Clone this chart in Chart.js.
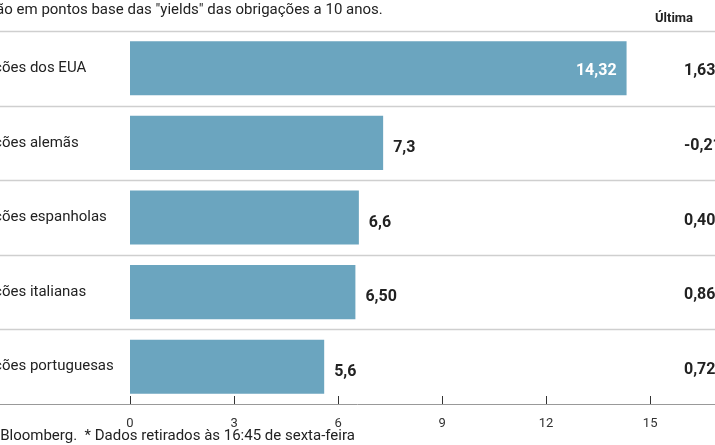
<!DOCTYPE html>
<html><head><meta charset="utf-8">
<script src="https://cdn.jsdelivr.net/npm/chart.js@4"></script>
<style>html,body{margin:0;padding:0;background:#fff}#w{width:715px;height:445px}</style>
</head><body><div id="w"><canvas id="c"></canvas></div>
<script>
const categories = ["Obrigações dos EUA","Obrigações alemãs","Obrigações espanholas","Obrigações italianas","Obrigações portuguesas"];
const values = [14.32, 7.3, 6.6, 6.5, 5.6];
const valueLabels = ["14,32","7,3","6,6","6,50","5,6"];
const lastYields = ["1,63","-0,21","0,40","0,86","0,72"];
const xTicks = [0,3,6,9,12,15];
const titleText = 'Variação em pontos base das "yields" das obrigações a 10 anos.';
const footerText = 'Fonte: Bloomberg.  * Dados retirados às 16:45 de sexta-feira';
const FONT = 'Roboto, "Open Sans", sans-serif';

const deco = {
  id:'deco',
  beforeDatasetsDraw(ch){
    const c=ch.ctx, a=ch.chartArea, y=ch.scales.y, x=ch.scales.x;
    c.save();
    c.strokeStyle='#cfcfcf'; c.lineWidth=1.5;
    const step=(a.bottom-a.top)/categories.length;
    for(let i=0;i<categories.length;i++){
      const yy=Math.round(a.top+i*step)+0.5;
      c.beginPath(); c.moveTo(0,yy); c.lineTo(715,yy); c.stroke();
    }
    c.strokeStyle='#999'; c.lineWidth=1;
    c.beginPath(); c.moveTo(0,a.bottom+0.5); c.lineTo(715,a.bottom+0.5); c.stroke();
    c.strokeStyle='#333';
    xTicks.forEach(t=>{const px=Math.round(x.getPixelForValue(t))+0.5;c.beginPath();c.moveTo(px,a.bottom-8);c.lineTo(px,a.bottom);c.stroke();});
    c.restore();
  },
  afterDatasetsDraw(ch){
    const c=ch.ctx, a=ch.chartArea, meta=ch.getDatasetMeta(0);
    c.save(); c.textBaseline='middle';
    meta.data.forEach((b,i)=>{
      c.font='15px '+FONT; c.fillStyle='#222'; c.textAlign='left';
      c.fillText(categories[i],-50,b.y);
      c.font='bold 16px '+FONT;
      if(i===0){c.fillStyle='#fff';c.textAlign='right';c.fillText(valueLabels[i],b.x-10,b.y+3);}
      else{c.fillStyle='#222';c.textAlign='left';c.fillText(valueLabels[i],b.x+10,b.y+5);}
      c.fillStyle='#222';c.textAlign='left';c.fillText(lastYields[i],684,b.y+3);
    });
    c.font='15px '+FONT; c.fillStyle='#222'; c.textAlign='left';
    c.fillText(titleText,-46,10);
    c.fillText(footerText,-45,436);
    c.font='bold 13px '+FONT; c.fillText('Última',655,19);
    c.restore();
  }
};

new Chart(document.getElementById('c'),{
  type:'bar',
  data:{labels:categories,datasets:[{data:values,backgroundColor:'#6ba5bf',barPercentage:0.725,categoryPercentage:1}]},
  options:{
    indexAxis:'y',responsive:true,maintainAspectRatio:false,animation:false,
    layout:{padding:{left:130,right:0,top:31,bottom:0}},
    plugins:{legend:{display:false},tooltip:{enabled:false}},
    scales:{
      y:{display:false},
      x:{min:0,max:16.87,afterFit(s){s.height=41;},
        afterBuildTicks(s){s.ticks=xTicks.map(v=>({value:v}));},
        grid:{display:false},border:{display:false},
        ticks:{padding:4,color:'#333',font:{family:FONT,size:13},maxRotation:0,callback:v=>String(v)}}
    }
  },
  plugins:[deco]
});
</script></body></html>
